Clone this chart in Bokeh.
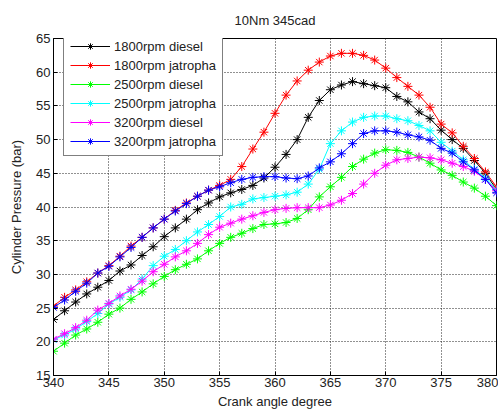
from bokeh.plotting import figure
from bokeh.models import Range1d, FixedTicker
from bokeh.embed import file_html
from bokeh.resources import INLINE

crank_angle = [340, 341, 342, 343, 344, 345, 346, 347, 348, 349, 350,
               351, 352, 353, 354, 355, 356, 357, 358, 359, 360,
               361, 362, 363, 364, 365, 366, 367, 368, 369, 370,
               371, 372, 373, 374, 375, 376, 377, 378, 379, 380]

diesel_1800 = [23.3, 24.6, 25.9, 27.1, 28.1, 29.1, 30.5, 31.4, 32.8, 34.1, 35.6,
               36.9, 38.2, 39.6, 40.6, 41.5, 42.1, 42.6, 43.2, 44.3, 45.9,
               47.8, 50.0, 53.3, 55.8, 57.4, 58.1, 58.6, 58.3, 58.0, 57.7,
               56.4, 55.6, 54.1, 53.1, 51.4, 50.0, 48.7, 46.9, 45.0, 42.6]

jatropha_1800 = [25.3, 26.6, 27.7, 28.9, 30.2, 31.3, 32.7, 34.2, 35.5, 36.9, 38.2,
                 39.5, 40.6, 41.6, 42.5, 43.2, 44.1, 46.0, 48.6, 51.1, 53.9,
                 56.6, 58.7, 60.3, 61.5, 62.4, 62.8, 62.8, 62.5, 61.8, 60.6,
                 59.2, 57.9, 56.6, 54.8, 52.3, 51.0, 49.0, 47.2, 45.2, 43.0]

diesel_2500 = [18.6, 19.8, 21.0, 21.9, 22.9, 24.1, 25.0, 26.3, 27.4, 28.6, 29.7,
               30.7, 31.5, 32.3, 33.5, 34.6, 35.5, 36.1, 36.8, 37.4, 37.5,
               37.7, 38.3, 39.6, 41.5, 43.0, 44.4, 46.0, 47.1, 48.0, 48.5,
               48.4, 48.1, 47.4, 46.5, 45.5, 44.7, 43.7, 42.8, 41.6, 40.2]

jatropha_2500 = [20.3, 21.0, 21.9, 23.0, 24.2, 25.6, 26.6, 27.7, 29.3, 31.3, 32.7,
                 33.7, 35.0, 36.3, 37.4, 38.6, 40.0, 40.4, 41.2, 41.4, 41.6,
                 41.8, 42.2, 43.4, 45.6, 49.4, 51.3, 52.6, 53.3, 53.5, 53.5,
                 53.1, 52.8, 52.1, 51.3, 49.6, 48.3, 47.0, 45.6, 44.3, 42.6]

diesel_3200 = [20.4, 21.2, 22.1, 23.2, 24.7, 25.7, 26.8, 27.8, 29.0, 30.4, 31.5,
               32.6, 33.5, 34.6, 35.9, 37.0, 37.6, 38.2, 38.7, 39.2, 39.6,
               39.8, 39.9, 39.9, 39.9, 40.3, 41.0, 42.0, 43.4, 45.0, 46.2,
               47.0, 47.2, 47.4, 47.3, 47.0, 46.5, 46.0, 45.3, 44.1, 42.4]

jatropha_3200 = [25.1, 26.2, 27.5, 28.7, 30.2, 31.2, 32.6, 34.0, 35.5, 36.9, 38.2,
                 39.4, 40.5, 41.6, 42.5, 43.0, 43.6, 44.1, 44.4, 44.5, 44.5,
                 44.3, 44.2, 44.6, 45.8, 46.7, 47.9, 49.4, 50.9, 51.3, 51.3,
                 51.1, 50.7, 50.4, 49.9, 48.7, 48.0, 46.7, 45.5, 44.1, 42.1]

series_labels = ["1800rpm diesel", "1800rpm jatropha", "2500rpm diesel",
                 "2500rpm jatropha", "3200rpm diesel", "3200rpm jatropha"]
series_values = [diesel_1800, jatropha_1800, diesel_2500,
                 jatropha_2500, diesel_3200, jatropha_3200]
series_colors = ["#000000", "#ff0000", "#00ff00", "#00ffff", "#ff00ff", "#0000ff"]

x_ticks = [340, 345, 350, 355, 360, 365, 370, 375, 380]
y_ticks = [15, 20, 25, 30, 35, 40, 45, 50, 55, 60, 65]

FONT = "Liberation Sans"
FS = "13px"

p = figure(width=498, height=411, output_backend="svg", toolbar_location=None,
           x_range=Range1d(340, 380), y_range=Range1d(15, 65),
           min_border_left=53, min_border_right=2, min_border_top=31,
           min_border_bottom=36, title="10Nm 345cad",
           background_fill_color="white", border_fill_color="white")

p.title.align = "center"
p.title.text_font = FONT
p.title.text_font_size = FS
p.title.text_font_style = "normal"
p.title.text_color = "#222222"
p.title.standoff = 21

p.outline_line_color = "black"
p.outline_line_width = 1
p.outline_line_alpha = 1

for ax, ticks in ((p.xaxis, x_ticks), (p.yaxis, y_ticks)):
    ax.ticker = FixedTicker(ticks=ticks)
    ax.major_tick_in = 4
    ax.major_tick_out = 0
    ax.minor_tick_in = 0
    ax.minor_tick_out = 0
    ax.axis_line_color = "black"
    ax.major_tick_line_color = "black"
    ax.major_label_text_font = FONT
    ax.major_label_text_font_size = FS
    ax.major_label_text_color = "#222222"
    ax.axis_label_text_font = FONT
    ax.axis_label_text_font_size = FS
    ax.axis_label_text_font_style = "normal"
    ax.axis_label_text_color = "#222222"

p.xaxis.major_label_standoff = 2
p.xaxis.axis_label_standoff = 4
p.yaxis.major_label_standoff = 3
p.yaxis.axis_label_standoff = 9
p.xaxis.axis_label = "Crank angle degree"
p.yaxis.axis_label = "Cylinder Pressure (bar)"

p.xgrid.ticker = FixedTicker(ticks=x_ticks)
p.ygrid.ticker = FixedTicker(ticks=y_ticks)
for g in (p.xgrid, p.ygrid):
    g.grid_line_color = "#222222"
    g.grid_line_dash = "1 2"
    g.grid_line_width = 1

for label, vals, col in zip(series_labels, series_values, series_colors):
    p.line(crank_angle, vals, line_color=col, line_width=1, legend_label=label)
    p.scatter(crank_angle, vals, marker="asterisk", size=9, line_color=col,
              line_width=1, legend_label=label)

lg = p.legend[0]
lg.location = (10, 219)
lg.border_line_color = "black"
lg.border_line_width = 1
lg.background_fill_color = "white"
lg.background_fill_alpha = 1
lg.padding = 6
lg.spacing = 3
lg.margin = 0
lg.glyph_width = 40
lg.glyph_height = 16
lg.label_height = 16
lg.label_standoff = 4
lg.label_text_font = FONT
lg.label_text_font_size = FS
lg.label_text_color = "#222222"

open("out.html", "w").write(file_html(p, INLINE))
